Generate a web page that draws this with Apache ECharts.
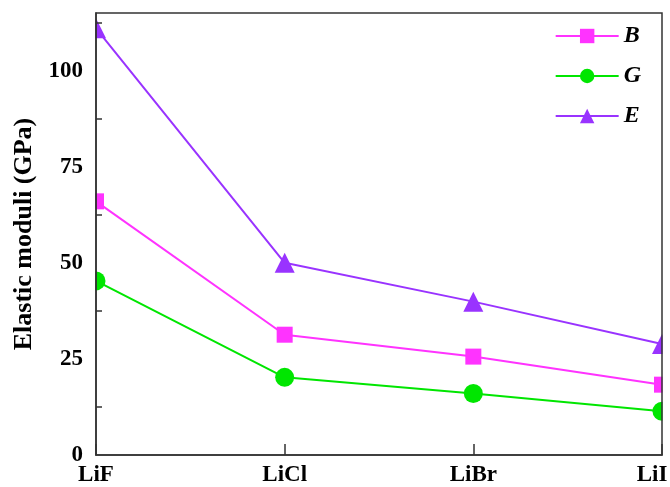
<!DOCTYPE html>
<html>
<head>
<meta charset="utf-8">
<script src="https://cdn.jsdelivr.net/npm/echarts@6/dist/echarts.min.js"></script>
<style>html,body{margin:0;padding:0;background:#fff}#c{width:670px;height:487px}</style>
</head>
<body>
<div id="c"></div>
<script>
var categories = ['LiF', 'LiCl', 'LiBr', 'LiI'];
var seriesB = [66.0, 31.3, 25.6, 18.3];
var seriesG = [45.3, 20.2, 16.0, 11.4];
var seriesE = [111.0, 50.0, 39.9, 28.9];
var yTicks = [0, 25, 50, 75, 100];

var FONT = '"Liberation Serif", "Times New Roman", serif';
var chart = echarts.init(document.getElementById('c'), null, {renderer: 'canvas'});
var gridL = 96, gridR = 8, gridT = 13, gridB = 32;
var W = 670, H = 487;

function mk(name, data, color, symbol, size) {
  return {
    name: name, type: 'line', data: data, z: 2,
    symbol: symbol, symbolSize: size, showSymbol: true,
    lineStyle: {color: color, width: 2},
    itemStyle: {color: color},
    clip: false,
    animation: false
  };
}

var lastCat = categories[categories.length - 1];

chart.setOption({
  animation: false,
  backgroundColor: '#fff',
  grid: {left: gridL, right: gridR, top: gridT, bottom: gridB, containLabel: false, outerBoundsMode: 'none',
    show: true, borderColor: '#333', borderWidth: 1.5, backgroundColor: 'transparent', z: 10},
  legend: {
    right: 24, top: 19, orient: 'vertical', z: 10,
    itemWidth: 63, itemHeight: 18, itemGap: 16,
    textStyle: {fontFamily: FONT, fontSize: 24, fontWeight: 'bold', fontStyle: 'italic', color: '#000'},
    data: ['B', 'G', 'E']
  },
  xAxis: {
    type: 'category', data: categories, boundaryGap: false, z: 10,
    axisLine: {lineStyle: {color: '#333', width: 1.5}},
    axisTick: {inside: true, length: 11, lineStyle: {color: '#333', width: 1.5}},
    axisLabel: {fontFamily: FONT, fontSize: 23, fontWeight: 'bold', color: '#000', margin: 9,
      formatter: function (v) { return v === lastCat ? '{p|' + v + '}' : v; },
      rich: {p: {fontFamily: FONT, fontSize: 23, fontWeight: 'bold', color: '#000', padding: [0, 20, 0, 0]}}},
    splitLine: {show: false}
  },
  yAxis: {
    type: 'value', min: 0, max: 115, interval: 25, z: 10,
    name: 'Elastic moduli (GPa)', nameLocation: 'middle', nameGap: 56,
    nameTextStyle: {fontFamily: FONT, fontSize: 26, fontWeight: 'bold', color: '#000'},
    axisLine: {show: true, lineStyle: {color: '#333', width: 1.5}},
    axisTick: {inside: true, length: 12, lineStyle: {color: '#333', width: 1.5}},
    minorTick: {show: true, splitNumber: 2, length: 6, lineStyle: {color: '#333', width: 1.5}},
    axisLabel: {fontFamily: FONT, fontSize: 23, fontWeight: 'bold', color: '#000', margin: 13, showMaxLabel: false,
      formatter: function (v) { return yTicks.indexOf(v) >= 0 ? String(v) : ''; }},
    splitLine: {show: false}
  },
  graphic: [
    {type: 'rect', z: 5, silent: true, shape: {x: 0, y: 0, width: gridL - 0.5, height: H}, style: {fill: '#fff'}},
    {type: 'rect', z: 5, silent: true, shape: {x: W - gridR + 0.5, y: 0, width: gridR, height: H}, style: {fill: '#fff'}},
    {type: 'rect', z: 5, silent: true, shape: {x: 0, y: 0, width: W, height: gridT - 0.5}, style: {fill: '#fff'}},
    {type: 'rect', z: 5, silent: true, shape: {x: 0, y: H - gridB + 0.5, width: W, height: gridB}, style: {fill: '#fff'}}
  ],
  series: [
    mk('B', seriesB, '#ff33ff', 'rect', 16),
    mk('G', seriesG, '#00e600', 'circle', 19),
    mk('E', seriesE, '#9933ff', 'triangle', 20)
  ]
});
</script>
</body>
</html>
